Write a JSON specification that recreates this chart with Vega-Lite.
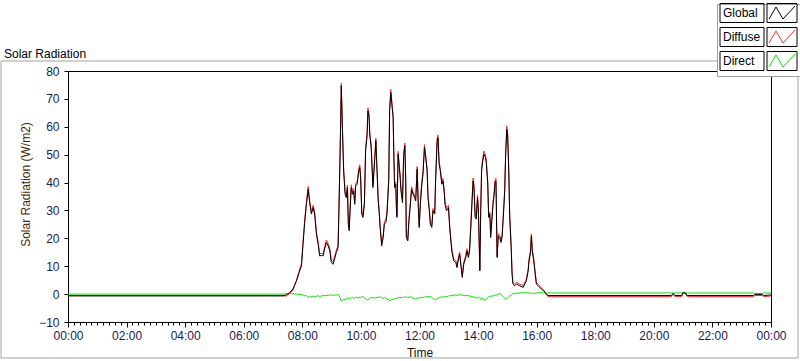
{
  "$schema": "https://vega.github.io/schema/vega-lite/v6.json",
  "width": 703,
  "height": 251,
  "autosize": {"type": "none"},
  "padding": {"left": 68, "top": 71, "right": 29, "bottom": 39},
  "background": "white",
  "title": {"text": "Solar Radiation", "anchor": "start", "frame": "group", "dx": -64, "dy": 67, "offset": 10, "fontSize": 12, "fontWeight": "normal", "font": "Liberation Sans", "color": "black"},
  "config": {
    "view": {"stroke": "black", "strokeWidth": 1},
    "font": "Liberation Sans",
    "axis": {"labelOverlap": false, "labelSeparation": 0, "labelBound": false},
    "axisQuantitative": {"labelOverlap": false},
    "axisX": {"labelOverlap": false},
    "axisY": {"labelOverlap": false}
  },
  "data": {"values": [
    {"time": 0.00, "Global": -0.6, "Diffuse": -0.6, "Direct": 0.0},
    {"time": 7.34, "Global": -0.6, "Diffuse": -0.6, "Direct": 0.0},
    {"time": 7.45, "Global": -0.3, "Diffuse": -0.7, "Direct": 0.2},
    {"time": 7.57, "Global": 0.6, "Diffuse": 0.2, "Direct": 0.2},
    {"time": 7.68, "Global": 1.8, "Diffuse": 1.5, "Direct": 0.1},
    {"time": 7.80, "Global": 4.8, "Diffuse": 4.9, "Direct": 0.0},
    {"time": 7.89, "Global": 7.7, "Diffuse": 8.3, "Direct": -0.1},
    {"time": 7.97, "Global": 10.1, "Diffuse": 10.9, "Direct": -0.2},
    {"time": 8.02, "Global": 17.3, "Diffuse": 18.1, "Direct": -0.3},
    {"time": 8.08, "Global": 25.7, "Diffuse": 26.5, "Direct": -0.6},
    {"time": 8.14, "Global": 32.2, "Diffuse": 33.1, "Direct": -0.5},
    {"time": 8.20, "Global": 37.6, "Diffuse": 38.6, "Direct": -1.2},
    {"time": 8.25, "Global": 32.8, "Diffuse": 33.7, "Direct": -1.0},
    {"time": 8.31, "Global": 28.7, "Diffuse": 29.5, "Direct": -0.9},
    {"time": 8.37, "Global": 31.0, "Diffuse": 31.9, "Direct": -0.7},
    {"time": 8.42, "Global": 28.7, "Diffuse": 29.5, "Direct": -0.9},
    {"time": 8.48, "Global": 21.5, "Diffuse": 22.3, "Direct": -0.8},
    {"time": 8.54, "Global": 17.9, "Diffuse": 18.8, "Direct": -0.6},
    {"time": 8.59, "Global": 13.7, "Diffuse": 14.5, "Direct": -0.8},
    {"time": 8.65, "Global": 13.9, "Diffuse": 14.6, "Direct": -0.7},
    {"time": 8.71, "Global": 13.7, "Diffuse": 14.5, "Direct": -0.5},
    {"time": 8.76, "Global": 16.2, "Diffuse": 17.0, "Direct": -0.6},
    {"time": 8.82, "Global": 18.5, "Diffuse": 19.4, "Direct": -0.4},
    {"time": 8.88, "Global": 17.3, "Diffuse": 18.2, "Direct": -0.5},
    {"time": 8.94, "Global": 15.5, "Diffuse": 16.3, "Direct": -0.3},
    {"time": 8.99, "Global": 11.3, "Diffuse": 12.1, "Direct": -0.3},
    {"time": 9.05, "Global": 10.7, "Diffuse": 11.5, "Direct": -0.4},
    {"time": 9.16, "Global": 14.9, "Diffuse": 15.7, "Direct": -0.3},
    {"time": 9.22, "Global": 16.7, "Diffuse": 17.6, "Direct": -0.2},
    {"time": 9.25, "Global": 29.9, "Diffuse": 30.8, "Direct": -0.4},
    {"time": 9.30, "Global": 56.1, "Diffuse": 57.2, "Direct": -1.5},
    {"time": 9.33, "Global": 74.7, "Diffuse": 75.6, "Direct": -2.4},
    {"time": 9.37, "Global": 58.5, "Diffuse": 59.6, "Direct": -2.2},
    {"time": 9.41, "Global": 44.2, "Diffuse": 45.1, "Direct": -1.9},
    {"time": 9.46, "Global": 35.8, "Diffuse": 36.7, "Direct": -2.1},
    {"time": 9.50, "Global": 34.6, "Diffuse": 35.5, "Direct": -1.5},
    {"time": 9.54, "Global": 38.2, "Diffuse": 39.1, "Direct": -1.4},
    {"time": 9.57, "Global": 25.1, "Diffuse": 25.9, "Direct": -1.6},
    {"time": 9.60, "Global": 22.7, "Diffuse": 23.6, "Direct": -1.3},
    {"time": 9.64, "Global": 32.2, "Diffuse": 33.1, "Direct": -1.5},
    {"time": 9.67, "Global": 38.2, "Diffuse": 39.2, "Direct": -1.4},
    {"time": 9.71, "Global": 35.8, "Diffuse": 36.7, "Direct": -1.2},
    {"time": 9.75, "Global": 37.0, "Diffuse": 37.9, "Direct": -1.6},
    {"time": 9.79, "Global": 32.2, "Diffuse": 33.1, "Direct": -1.3},
    {"time": 9.82, "Global": 38.8, "Diffuse": 39.7, "Direct": -1.2},
    {"time": 9.87, "Global": 39.4, "Diffuse": 40.3, "Direct": -1.1},
    {"time": 9.93, "Global": 44.2, "Diffuse": 45.2, "Direct": -1.4},
    {"time": 9.96, "Global": 45.4, "Diffuse": 46.4, "Direct": -1.0},
    {"time": 9.99, "Global": 41.8, "Diffuse": 42.7, "Direct": -1.2},
    {"time": 10.03, "Global": 28.7, "Diffuse": 29.5, "Direct": -1.0},
    {"time": 10.07, "Global": 27.5, "Diffuse": 28.3, "Direct": -0.9},
    {"time": 10.12, "Global": 32.2, "Diffuse": 33.1, "Direct": -1.3},
    {"time": 10.16, "Global": 51.4, "Diffuse": 52.4, "Direct": -1.8},
    {"time": 10.21, "Global": 56.7, "Diffuse": 57.7, "Direct": -2.2},
    {"time": 10.24, "Global": 65.7, "Diffuse": 66.8, "Direct": -2.0},
    {"time": 10.28, "Global": 63.3, "Diffuse": 64.4, "Direct": -1.6},
    {"time": 10.30, "Global": 57.3, "Diffuse": 58.3, "Direct": -1.5},
    {"time": 10.35, "Global": 52.6, "Diffuse": 53.5, "Direct": -1.2},
    {"time": 10.38, "Global": 45.4, "Diffuse": 46.3, "Direct": -1.4},
    {"time": 10.41, "Global": 38.2, "Diffuse": 39.1, "Direct": -1.2},
    {"time": 10.47, "Global": 47.8, "Diffuse": 48.7, "Direct": -1.5},
    {"time": 10.51, "Global": 55.0, "Diffuse": 55.9, "Direct": -1.1},
    {"time": 10.55, "Global": 44.2, "Diffuse": 45.1, "Direct": -1.3},
    {"time": 10.59, "Global": 33.4, "Diffuse": 34.3, "Direct": -1.0},
    {"time": 10.62, "Global": 29.9, "Diffuse": 30.7, "Direct": -1.2},
    {"time": 10.66, "Global": 23.3, "Diffuse": 24.1, "Direct": -1.0},
    {"time": 10.71, "Global": 17.3, "Diffuse": 18.1, "Direct": -1.3},
    {"time": 10.76, "Global": 20.3, "Diffuse": 21.1, "Direct": -1.5},
    {"time": 10.80, "Global": 25.1, "Diffuse": 25.9, "Direct": -1.2},
    {"time": 10.85, "Global": 25.7, "Diffuse": 26.6, "Direct": -1.4},
    {"time": 10.89, "Global": 28.7, "Diffuse": 29.6, "Direct": -1.7},
    {"time": 10.95, "Global": 40.6, "Diffuse": 41.5, "Direct": -2.0},
    {"time": 10.98, "Global": 65.7, "Diffuse": 66.8, "Direct": -2.4},
    {"time": 11.02, "Global": 72.3, "Diffuse": 73.4, "Direct": -2.2},
    {"time": 11.05, "Global": 68.7, "Diffuse": 69.7, "Direct": -1.9},
    {"time": 11.10, "Global": 63.3, "Diffuse": 64.3, "Direct": -1.8},
    {"time": 11.12, "Global": 51.4, "Diffuse": 52.3, "Direct": -2.0},
    {"time": 11.15, "Global": 38.2, "Diffuse": 39.1, "Direct": -1.6},
    {"time": 11.19, "Global": 39.4, "Diffuse": 40.3, "Direct": -1.7},
    {"time": 11.21, "Global": 31.0, "Diffuse": 31.9, "Direct": -1.4},
    {"time": 11.23, "Global": 27.5, "Diffuse": 28.3, "Direct": -1.5},
    {"time": 11.27, "Global": 50.2, "Diffuse": 51.2, "Direct": -1.3},
    {"time": 11.30, "Global": 46.6, "Diffuse": 47.5, "Direct": -1.2},
    {"time": 11.33, "Global": 43.0, "Diffuse": 43.9, "Direct": -1.3},
    {"time": 11.37, "Global": 37.0, "Diffuse": 37.9, "Direct": -1.1},
    {"time": 11.42, "Global": 32.8, "Diffuse": 33.7, "Direct": -1.3},
    {"time": 11.46, "Global": 49.6, "Diffuse": 50.6, "Direct": -1.0},
    {"time": 11.50, "Global": 53.2, "Diffuse": 54.2, "Direct": -1.2},
    {"time": 11.53, "Global": 40.6, "Diffuse": 41.5, "Direct": -0.9},
    {"time": 11.55, "Global": 20.3, "Diffuse": 21.1, "Direct": -1.0},
    {"time": 11.60, "Global": 19.1, "Diffuse": 19.9, "Direct": -1.3},
    {"time": 11.64, "Global": 26.3, "Diffuse": 27.1, "Direct": -1.1},
    {"time": 11.69, "Global": 32.2, "Diffuse": 33.1, "Direct": -1.0},
    {"time": 11.73, "Global": 37.6, "Diffuse": 38.5, "Direct": -1.2},
    {"time": 11.78, "Global": 35.8, "Diffuse": 36.7, "Direct": -1.4},
    {"time": 11.83, "Global": 34.6, "Diffuse": 35.5, "Direct": -1.6},
    {"time": 11.87, "Global": 33.4, "Diffuse": 34.3, "Direct": -1.8},
    {"time": 11.92, "Global": 44.8, "Diffuse": 45.8, "Direct": -1.5},
    {"time": 11.96, "Global": 31.0, "Diffuse": 31.9, "Direct": -1.3},
    {"time": 11.99, "Global": 23.9, "Diffuse": 24.7, "Direct": -1.4},
    {"time": 12.03, "Global": 32.2, "Diffuse": 33.1, "Direct": -1.2},
    {"time": 12.08, "Global": 39.4, "Diffuse": 40.3, "Direct": -1.3},
    {"time": 12.12, "Global": 43.0, "Diffuse": 43.9, "Direct": -1.2},
    {"time": 12.17, "Global": 52.6, "Diffuse": 53.6, "Direct": -1.0},
    {"time": 12.21, "Global": 49.0, "Diffuse": 49.9, "Direct": -0.9},
    {"time": 12.26, "Global": 44.2, "Diffuse": 45.1, "Direct": -1.1},
    {"time": 12.29, "Global": 34.6, "Diffuse": 35.5, "Direct": -0.8},
    {"time": 12.33, "Global": 30.5, "Diffuse": 31.3, "Direct": -1.0},
    {"time": 12.37, "Global": 25.1, "Diffuse": 25.9, "Direct": -0.9},
    {"time": 12.42, "Global": 23.9, "Diffuse": 24.7, "Direct": -1.2},
    {"time": 12.46, "Global": 29.9, "Diffuse": 30.7, "Direct": -1.5},
    {"time": 12.52, "Global": 28.7, "Diffuse": 29.5, "Direct": -1.9},
    {"time": 12.55, "Global": 40.6, "Diffuse": 41.5, "Direct": -2.1},
    {"time": 12.60, "Global": 54.4, "Diffuse": 55.4, "Direct": -1.8},
    {"time": 12.63, "Global": 56.1, "Diffuse": 57.1, "Direct": -1.4},
    {"time": 12.67, "Global": 46.6, "Diffuse": 47.5, "Direct": -1.3},
    {"time": 12.71, "Global": 44.2, "Diffuse": 45.1, "Direct": -1.0},
    {"time": 12.76, "Global": 39.4, "Diffuse": 40.3, "Direct": -1.2},
    {"time": 12.80, "Global": 40.6, "Diffuse": 41.5, "Direct": -0.9},
    {"time": 12.85, "Global": 35.8, "Diffuse": 36.7, "Direct": -1.1},
    {"time": 12.87, "Global": 32.2, "Diffuse": 33.1, "Direct": -0.8},
    {"time": 12.92, "Global": 29.9, "Diffuse": 30.8, "Direct": -1.0},
    {"time": 12.99, "Global": 31.0, "Diffuse": 31.9, "Direct": -0.7},
    {"time": 13.03, "Global": 23.9, "Diffuse": 24.7, "Direct": -0.6},
    {"time": 13.07, "Global": 19.1, "Diffuse": 19.9, "Direct": -0.5},
    {"time": 13.11, "Global": 14.9, "Diffuse": 15.7, "Direct": -0.6},
    {"time": 13.17, "Global": 11.9, "Diffuse": 12.7, "Direct": -0.4},
    {"time": 13.24, "Global": 11.3, "Diffuse": 12.1, "Direct": -0.3},
    {"time": 13.28, "Global": 9.5, "Diffuse": 10.3, "Direct": -0.5},
    {"time": 13.33, "Global": 12.5, "Diffuse": 13.3, "Direct": -0.3},
    {"time": 13.37, "Global": 14.3, "Diffuse": 15.1, "Direct": -0.2},
    {"time": 13.42, "Global": 9.5, "Diffuse": 10.3, "Direct": -0.4},
    {"time": 13.46, "Global": 6.0, "Diffuse": 6.7, "Direct": -0.3},
    {"time": 13.51, "Global": 10.7, "Diffuse": 11.5, "Direct": -0.5},
    {"time": 13.58, "Global": 13.1, "Diffuse": 13.9, "Direct": -0.6},
    {"time": 13.62, "Global": 15.5, "Diffuse": 16.3, "Direct": -0.4},
    {"time": 13.67, "Global": 13.1, "Diffuse": 13.9, "Direct": -0.7},
    {"time": 13.71, "Global": 15.5, "Diffuse": 16.3, "Direct": -0.5},
    {"time": 13.76, "Global": 25.7, "Diffuse": 26.5, "Direct": -0.9},
    {"time": 13.79, "Global": 32.2, "Diffuse": 33.1, "Direct": -0.8},
    {"time": 13.83, "Global": 40.6, "Diffuse": 41.6, "Direct": -1.1},
    {"time": 13.86, "Global": 38.2, "Diffuse": 39.1, "Direct": -1.0},
    {"time": 13.90, "Global": 27.5, "Diffuse": 28.3, "Direct": -1.2},
    {"time": 13.94, "Global": 26.9, "Diffuse": 27.7, "Direct": -1.5},
    {"time": 13.98, "Global": 34.6, "Diffuse": 35.5, "Direct": -1.3},
    {"time": 14.01, "Global": 29.9, "Diffuse": 30.7, "Direct": -1.1},
    {"time": 14.06, "Global": 8.3, "Diffuse": 9.0, "Direct": -1.4},
    {"time": 14.09, "Global": 29.9, "Diffuse": 30.7, "Direct": -1.6},
    {"time": 14.12, "Global": 44.2, "Diffuse": 45.1, "Direct": -1.8},
    {"time": 14.16, "Global": 47.8, "Diffuse": 48.8, "Direct": -1.5},
    {"time": 14.20, "Global": 50.2, "Diffuse": 51.3, "Direct": -2.0},
    {"time": 14.25, "Global": 49.0, "Diffuse": 50.0, "Direct": -2.2},
    {"time": 14.28, "Global": 47.2, "Diffuse": 48.1, "Direct": -1.8},
    {"time": 14.33, "Global": 39.4, "Diffuse": 40.3, "Direct": -1.2},
    {"time": 14.36, "Global": 27.5, "Diffuse": 28.3, "Direct": -1.0},
    {"time": 14.40, "Global": 28.7, "Diffuse": 29.5, "Direct": -0.8},
    {"time": 14.43, "Global": 20.3, "Diffuse": 21.1, "Direct": -0.9},
    {"time": 14.47, "Global": 26.3, "Diffuse": 27.1, "Direct": -0.6},
    {"time": 14.51, "Global": 32.2, "Diffuse": 33.1, "Direct": -0.7},
    {"time": 14.55, "Global": 35.8, "Diffuse": 36.7, "Direct": -0.5},
    {"time": 14.58, "Global": 40.0, "Diffuse": 40.9, "Direct": -0.4},
    {"time": 14.61, "Global": 40.6, "Diffuse": 41.5, "Direct": -0.3},
    {"time": 14.65, "Global": 13.1, "Diffuse": 13.9, "Direct": -0.2},
    {"time": 14.69, "Global": 20.9, "Diffuse": 21.7, "Direct": 0.0},
    {"time": 14.74, "Global": 20.3, "Diffuse": 21.1, "Direct": 0.2},
    {"time": 14.78, "Global": 18.5, "Diffuse": 19.3, "Direct": -0.1},
    {"time": 14.82, "Global": 20.3, "Diffuse": 21.1, "Direct": -0.4},
    {"time": 14.86, "Global": 27.5, "Diffuse": 28.3, "Direct": -0.9},
    {"time": 14.91, "Global": 37.0, "Diffuse": 37.9, "Direct": -1.4},
    {"time": 14.94, "Global": 49.6, "Diffuse": 50.6, "Direct": -1.8},
    {"time": 14.98, "Global": 59.1, "Diffuse": 60.3, "Direct": -1.6},
    {"time": 15.01, "Global": 56.7, "Diffuse": 57.8, "Direct": -1.3},
    {"time": 15.05, "Global": 43.0, "Diffuse": 43.9, "Direct": -1.0},
    {"time": 15.08, "Global": 27.5, "Diffuse": 28.3, "Direct": -0.7},
    {"time": 15.13, "Global": 16.7, "Diffuse": 17.5, "Direct": -0.4},
    {"time": 15.16, "Global": 7.2, "Diffuse": 7.9, "Direct": -0.1},
    {"time": 15.19, "Global": 3.6, "Diffuse": 4.2, "Direct": 0.2},
    {"time": 15.25, "Global": 3.0, "Diffuse": 3.6, "Direct": 0.3},
    {"time": 15.31, "Global": 3.6, "Diffuse": 4.2, "Direct": 0.3},
    {"time": 15.42, "Global": 3.0, "Diffuse": 3.6, "Direct": 0.4},
    {"time": 15.54, "Global": 2.4, "Diffuse": 3.0, "Direct": 0.5},
    {"time": 15.65, "Global": 4.8, "Diffuse": 5.5, "Direct": 0.4},
    {"time": 15.71, "Global": 8.3, "Diffuse": 9.1, "Direct": 0.5},
    {"time": 15.74, "Global": 11.9, "Diffuse": 12.7, "Direct": 0.4},
    {"time": 15.79, "Global": 14.9, "Diffuse": 15.7, "Direct": 0.3},
    {"time": 15.82, "Global": 20.9, "Diffuse": 21.6, "Direct": 0.4},
    {"time": 15.85, "Global": 15.5, "Diffuse": 16.3, "Direct": 0.3},
    {"time": 15.90, "Global": 11.9, "Diffuse": 12.7, "Direct": 0.1},
    {"time": 15.95, "Global": 7.2, "Diffuse": 7.9, "Direct": 0.3},
    {"time": 15.99, "Global": 3.6, "Diffuse": 4.2, "Direct": 0.4},
    {"time": 16.05, "Global": 3.0, "Diffuse": 3.5, "Direct": 0.5},
    {"time": 16.10, "Global": 2.4, "Diffuse": 2.9, "Direct": 0.6},
    {"time": 16.16, "Global": 1.8, "Diffuse": 2.2, "Direct": 0.5},
    {"time": 16.24, "Global": 1.2, "Diffuse": 1.5, "Direct": 0.4},
    {"time": 16.31, "Global": 0.2, "Diffuse": 0.1, "Direct": 0.4},
    {"time": 16.39, "Global": -0.5, "Diffuse": -0.9, "Direct": 0.4},
    {"time": 20.60, "Global": -0.5, "Diffuse": -0.9, "Direct": 0.4},
    {"time": 20.66, "Global": 0.3, "Diffuse": -0.1, "Direct": 0.4},
    {"time": 20.72, "Global": -0.5, "Diffuse": -0.9, "Direct": 0.4},
    {"time": 20.95, "Global": -0.5, "Diffuse": -0.9, "Direct": 0.4},
    {"time": 21.00, "Global": 0.6, "Diffuse": 0.3, "Direct": 0.4},
    {"time": 21.08, "Global": 0.4, "Diffuse": 0.1, "Direct": 0.4},
    {"time": 21.14, "Global": -0.5, "Diffuse": -0.9, "Direct": 0.4},
    {"time": 23.40, "Global": -0.5, "Diffuse": -0.9, "Direct": 0.4},
    {"time": 23.45, "Global": -0.1, "Diffuse": -0.5, "Direct": 0.2},
    {"time": 23.70, "Global": -0.1, "Diffuse": -0.5, "Direct": 0.2},
    {"time": 23.75, "Global": -0.5, "Diffuse": -0.9, "Direct": 0.4},
    {"time": 24.00, "Global": -0.3, "Diffuse": -0.7, "Direct": 0.4}
  ]},
  "layer": [
    {
      "mark": {"type": "line", "strokeWidth": 1, "interpolate": "linear"},
      "encoding": {
        "x": {
          "field": "time", "type": "quantitative", "title": "Time",
          "scale": {"domain": [0, 24], "nice": false, "zero": false},
          "axis": {
            "values": [0,0.2,0.4,0.6,0.8,1,1.2,1.4,1.6,1.8,2,2.2,2.4,2.6,2.8,3,3.2,3.4,3.6,3.8,4,4.2,4.4,4.6,4.8,5,5.2,5.4,5.6,5.8,6,6.2,6.4,6.6,6.8,7,7.2,7.4,7.6,7.8,8,8.2,8.4,8.6,8.8,9,9.2,9.4,9.6,9.8,10,10.2,10.4,10.6,10.8,11,11.2,11.4,11.6,11.8,12,12.2,12.4,12.6,12.8,13,13.2,13.4,13.6,13.8,14,14.2,14.4,14.6,14.8,15,15.2,15.4,15.6,15.8,16,16.2,16.4,16.6,16.8,17,17.2,17.4,17.6,17.8,18,18.2,18.4,18.6,18.8,19,19.2,19.4,19.6,19.8,20,20.2,20.4,20.6,20.8,21,21.2,21.4,21.6,21.8,22,22.2,22.4,22.6,22.8,23,23.2,23.4,23.6,23.8,24],
            "tickCount": 200,
            "labelExpr": "abs(datum.value - round(datum.value/2)*2) < 0.01 ? ((round(datum.value) % 24 < 10 ? '0' : '') + (round(datum.value) % 24) + ':00') : ''",
            "tickSize": {"condition": {"test": "abs(datum.value - round(datum.value/2)*2) < 0.01", "value": 5}, "value": 3},
            "labelOverlap": false, "labelSeparation": 0, "labelFlush": false, "labelBound": false, "grid": false,
            "domainColor": "black", "tickColor": "black",
            "labelColor": "#1a1a50", "labelFont": "Liberation Sans", "labelFontSize": 12, "labelPadding": 3,
            "titleFont": "Liberation Sans", "titleFontSize": 12, "titleFontWeight": "normal", "titleColor": "#111111", "titlePadding": 6
          }
        },
        "y": {
          "field": "Diffuse", "type": "quantitative", "title": "Solar Radiation (W/m2)",
          "scale": {"domain": [-10, 80], "nice": false, "zero": false},
          "axis": {
            "values": [-10,0,10,20,30,40,50,60,70,80],
            "tickCount": 20,
            "labelOverlap": false, "labelSeparation": 0, "labelBound": false,
            "grid": false, "domainColor": "black", "tickColor": "black", "tickSize": 4,
            "labelColor": "#1a1a50", "labelFont": "Liberation Sans", "labelFontSize": 12, "labelPadding": 5,
            "titleFont": "Liberation Sans", "titleFontSize": 12, "titleFontWeight": "normal", "titleColor": "#4b2800", "titlePadding": 6, "titleY": 113
          }
        },
        "stroke": {
          "datum": "Diffuse", "type": "nominal",
          "scale": {"domain": ["Global", "Diffuse", "Direct"], "range": ["#000000", "#ff2a2a", "#00e600"]},
          "legend": {
            "orient": "none", "legendX": 708, "legendY": -64, "title": null, "padding": 0,
            "symbolType": "M-15,-9.5M15,9.5M-13,6L-6,-6L1,6L13,-7",
            "symbolSize": 4, "symbolStrokeWidth": 1, "symbolFillColor": "transparent",
            "labelExpr": "''", "labelFontSize": 12, "labelFont": "Liberation Sans", "rowPadding": 0, "zindex": 2
          }
        }
      }
    },
    {
      "mark": {"type": "line", "strokeWidth": 1, "interpolate": "linear"},
      "encoding": {
        "x": {"field": "time", "type": "quantitative"},
        "y": {"field": "Direct", "type": "quantitative", "title": "Solar Radiation (W/m2)"},
        "stroke": {"datum": "Direct", "type": "nominal"}
      }
    },
    {
      "mark": {"type": "line", "strokeWidth": 1, "interpolate": "linear"},
      "encoding": {
        "x": {"field": "time", "type": "quantitative"},
        "y": {"field": "Global", "type": "quantitative", "title": "Solar Radiation (W/m2)"},
        "stroke": {"datum": "Global", "type": "nominal"}
      }
    },
    {
      "data": {"values": [{"name": "Global"}, {"name": "Diffuse"}, {"name": "Direct"}]},
      "mark": {"type": "point", "opacity": 0, "size": 4, "color": "black"},
      "encoding": {
        "shape": {
          "field": "name", "type": "nominal", "sort": null,
          "scale": {"range": ["M-6,-9.5H38V9.5H-6ZM41,-9.5H71V9.5H41Z", "M-6,-9.5H38V9.5H-6ZM41,-9.5H71V9.5H41Z", "M-6,-9.5H38V9.5H-6ZM41,-9.5H71V9.5H41Z"]},
          "legend": {
            "orient": "none", "legendX": 649, "legendY": -67, "title": null, "padding": 3,
            "fillColor": "white", "strokeColor": "#a0a0a0",
            "symbolSize": 4, "symbolStrokeColor": "black", "symbolStrokeWidth": 1, "symbolFillColor": "transparent", "symbolOpacity": 1,
            "labelFont": "Liberation Sans", "labelFontSize": 12, "labelColor": "black", "labelOffset": -9, "labelLimit": 100,
            "rowPadding": 0, "zindex": 1,
            "encode": {"symbols": {"update": {"opacity": {"value": 1}, "stroke": {"value": "black"}}}}
          }
        }
      }
    },
    {
      "data": {"values": [{"frame": "Solar Radiation"}]},
      "mark": {"type": "point", "opacity": 0, "size": 4, "filled": true},
      "encoding": {
        "fill": {
          "field": "frame", "type": "nominal",
          "scale": {"range": ["transparent"]},
          "legend": {
            "orient": "none", "legendX": -73, "legendY": -16, "title": null, "padding": 0,
            "symbolType": "M0,0H797V297H0Z",
            "symbolSize": 4, "symbolStrokeColor": "#a0a0a0", "symbolStrokeWidth": 1, "symbolFillColor": "transparent", "symbolOpacity": 1,
            "labelExpr": "''", "labelFontSize": 12, "zindex": 0,
            "encode": {"symbols": {"update": {"opacity": {"value": 1}, "stroke": {"value": "#a0a0a0"}, "fill": {"value": "transparent"}}}}
          }
        }
      }
    }
  ]
}
